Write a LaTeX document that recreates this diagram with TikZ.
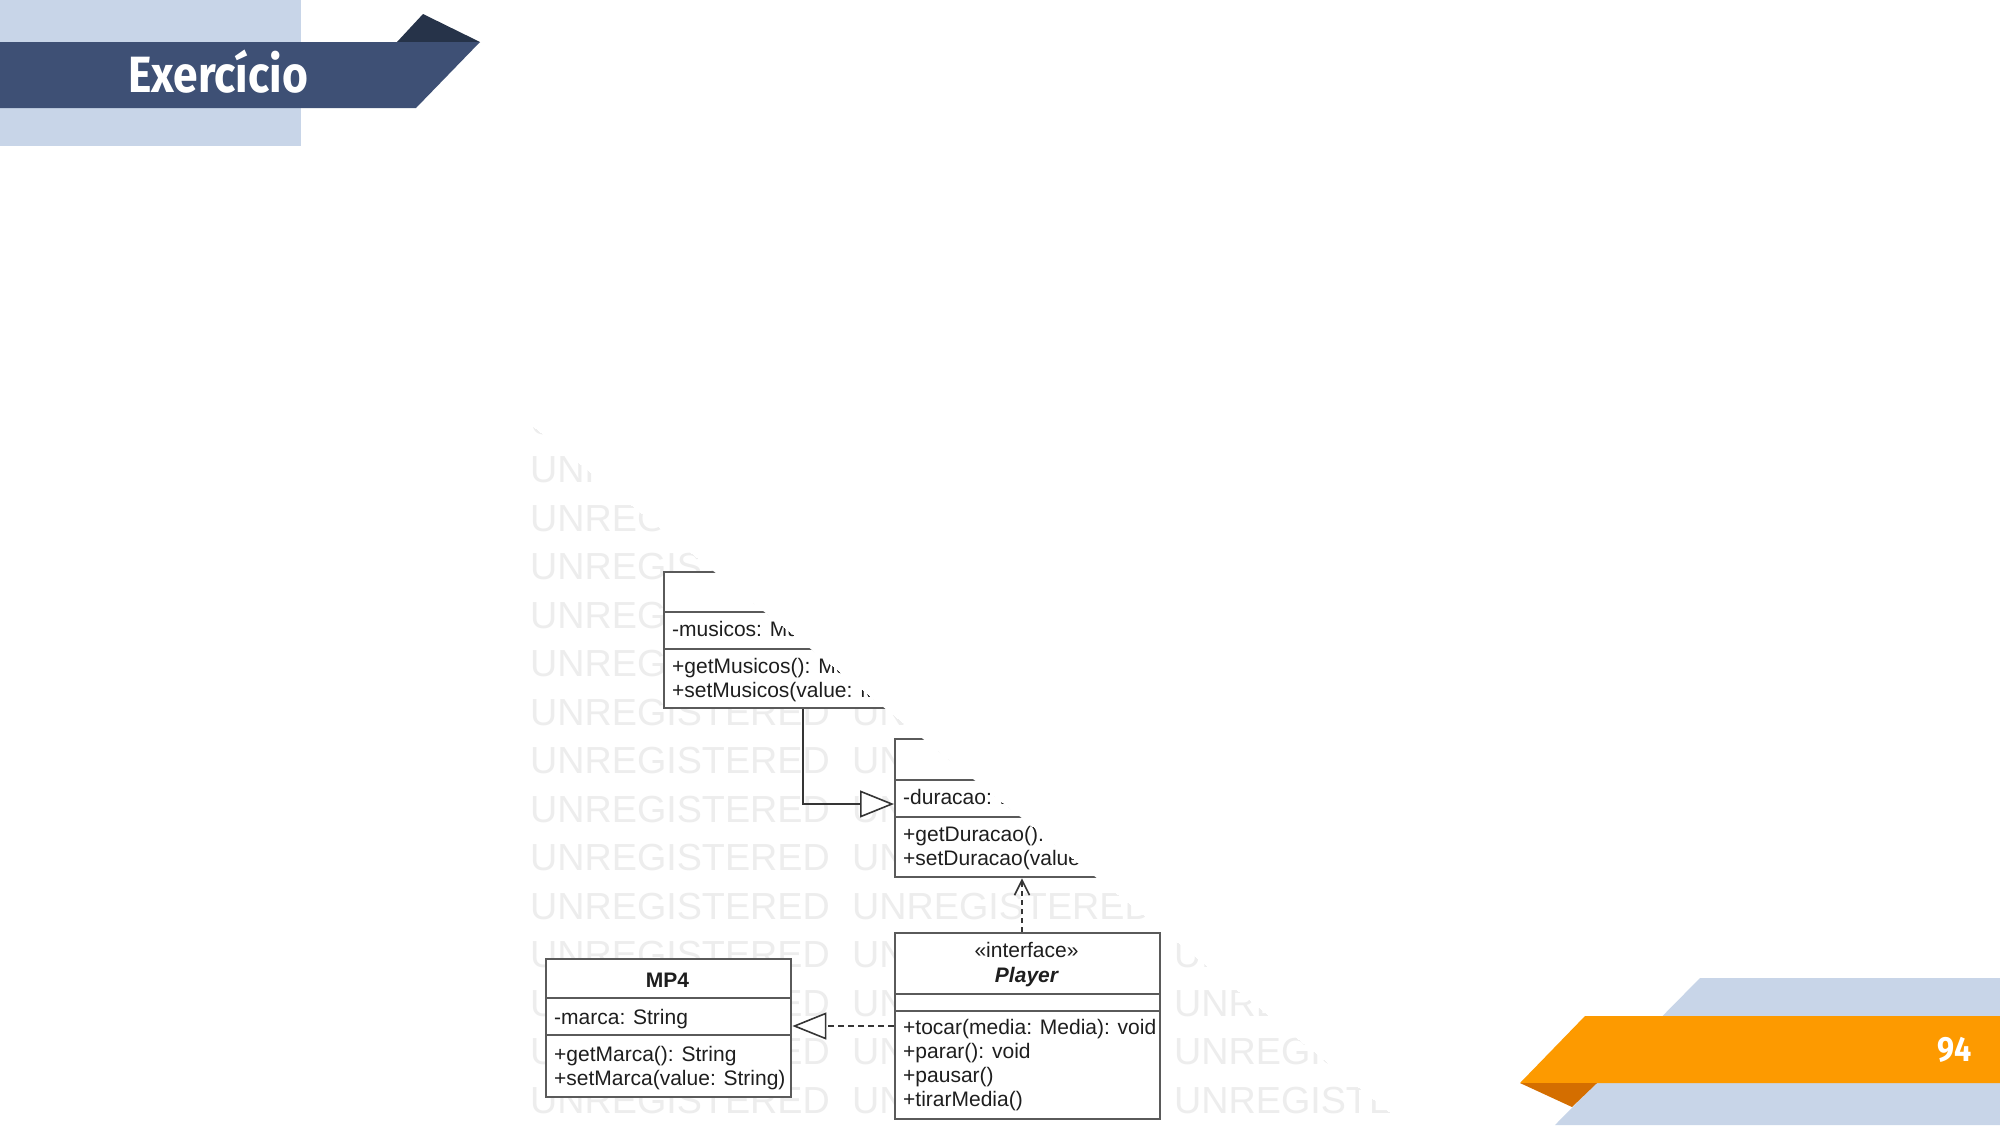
\documentclass[tikz,border=0pt]{standalone}
\usepackage{fontspec}
\setmainfont{Liberation Sans}
\newfontfamily\titlefont[FakeStretch=0.87]{Fira Sans}
\usetikzlibrary{arrows.meta}
\definecolor{lightblue}{HTML}{C8D5E8}
\definecolor{bandblue}{HTML}{3E5075}
\definecolor{darkblue}{HTML}{263349}
\definecolor{orangeband}{HTML}{FD9A00}
\definecolor{darkorange}{HTML}{D46E00}
\definecolor{wmgray}{HTML}{EDEDED}
\definecolor{boxline}{HTML}{5A5A5A}
\definecolor{umltext}{HTML}{1E1E1E}
\begin{document}
\begin{tikzpicture}[x=1pt,y=-1pt,
  titletext/.style={inner sep=0pt, text=white, font=\titlefont\bfseries\fontsize{51}{55}\selectfont},
  numtext/.style={inner sep=0pt, text=white, font=\titlefont\bfseries\fontsize{35}{38}\selectfont},
  wmtext/.style={inner sep=0pt, anchor=base west, text=wmgray, font=\fontsize{37.7}{40}\selectfont},
  umlbox/.style={draw=boxline, line width=2.4pt, fill=white, anchor=north west, inner sep=0pt},
  divider/.style={draw=boxline, line width=2.4pt},
  umltxt/.style={inner sep=0pt, anchor=base west, text=umltext, font=\fontsize{21}{25}\selectfont},
  umlname/.style={inner sep=0pt, anchor=base, text=umltext, font=\fontsize{21}{25}\selectfont},
  conn/.style={draw=umltext!90, line width=1.6pt},
  dashconn/.style={conn, dash pattern=on 6pt off 4pt},
  hollow/.style={-{Triangle[open, fill=white, length=34pt, width=27pt]}},
  vhead/.style={-{Straight Barb[length=15pt, width=15pt]}}
]
\useasboundingbox (0,0) rectangle (2000,1125);
\fill[white] (0,0) rectangle (2000,1125);

% --- title decoration ---
\fill[lightblue] (0,0) rectangle (301,146);
\fill[darkblue] (397,42) -- (423,14) -- (480,42) -- cycle;
\fill[bandblue] (0,42) -- (480,42) -- (416,108) -- (0,108) -- cycle;
\node[titletext, anchor=base west] (title) at (128,92) {Exercício};

% --- page number decoration ---
\fill[lightblue] (1700,978) -- (2000,978) -- (2000,1125) -- (1555,1125) -- cycle;
\fill[orangeband] (1585,1016) -- (2000,1016) -- (2000,1083) -- (1520,1083) -- cycle;
\fill[darkorange] (1520,1083) -- (1597,1083) -- (1572,1107) -- cycle;
\node[numtext, anchor=base east] (pagenum) at (1972,1061) {94};

% --- partially revealed UML picture ---
\begin{scope}
\clip (532,426) -- (1405,1125) -- (532,1125) -- cycle;
\foreach \k in {-10,...,4}{
  \foreach \j in {0,1,2}{
    \node[wmtext] (wm-\k-\j) at ({530+322*\j},{919+48.5*\k}) {UNREGISTERED};
  }
}
% Musicos box (name hidden)
\node[umlbox, minimum width=337pt, minimum height=136pt] (musicos) at (663,571) {};
\draw[divider] (663,612) -- (1000,612);
\draw[divider] (663,649) -- (1000,649);
\node[umltxt] (mus-a) at (672,636.5) {-musicos: Mu};
\node[umltxt] (mus-m1) at (672,673.5) {+getMusicos(): Mu};
\node[umltxt] (mus-m2) at (672,697.5) {+setMusicos(value: M};

% Media box (name hidden)
\node[umlbox, minimum width=256pt, minimum height=138pt] (media) at (894,738) {};
\draw[divider] (894,780) -- (1150,780);
\draw[divider] (894,817) -- (1150,817);
\node[umltxt] (med-a) at (903,804.5) {-duracao: .};
\node[umltxt] (med-m1) at (903,841.5) {+getDuracao().};
\node[umltxt] (med-m2) at (903,865.5) {+setDuracao(value};

% MP4 box
\node[umlbox, minimum width=245pt, minimum height=138pt] (mp4) at (545,958) {};
\draw[divider] (545,998) -- (790,998);
\draw[divider] (545,1035) -- (790,1035);
\node[umlname, font=\bfseries\fontsize{21}{25}\selectfont] (mp4-name) at (667.5,987.5) {MP4};
\node[umltxt] (mp4-a) at (554,1024.5) {-marca: String};
\node[umltxt] (mp4-m1) at (554,1061.5) {+getMarca(): String};
\node[umltxt] (mp4-m2) at (554,1085.5) {+setMarca(value: String)};

% Player interface box
\node[umlbox, minimum width=265pt, minimum height=186pt] (player) at (894,932) {};
\draw[divider] (894,994) -- (1159,994);
\draw[divider] (894,1011) -- (1159,1011);
\node[umlname] (pl-st) at (1026.5,957.5) {«interface»};
\node[umlname, font=\bfseries\itshape\fontsize{21}{25}\selectfont] (pl-name) at (1026.5,982.5) {Player};
\node[umltxt] (pl-m1) at (903,1034.5) {+tocar(media: Media): void};
\node[umltxt] (pl-m2) at (903,1058.5) {+parar(): void};
\node[umltxt] (pl-m3) at (903,1082.5) {+pausar()};
\node[umltxt] (pl-m4) at (903,1106.5) {+tirarMedia()};

% connectors
\coordinate (gx) at (803,0);
\coordinate (gy) at (0,804);
\coordinate (ry) at (0,1026);
\coordinate (dx) at (1022,0);
\draw[conn, hollow] (musicos.south -| gx) |- (media.west |- gy);
\draw[dashconn, hollow] (player.west |- ry) -- (mp4.east |- ry);
\draw[conn, dash pattern=on 5pt off 4pt, vhead] (player.north -| dx) -- (media.south -| dx);
\end{scope}
\end{tikzpicture}
\end{document}
